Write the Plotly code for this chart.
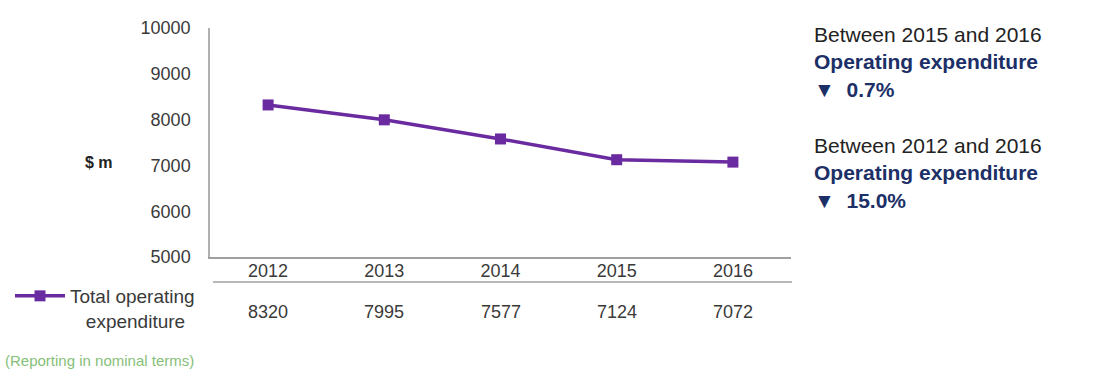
import plotly.graph_objects as go

years = ["2012", "2013", "2014", "2015", "2016"]
opex = [8320, 7995, 7577, 7124, 7072]
series_name = "Total operating<br>&nbsp;&nbsp;&nbsp;expenditure"
y_ticks = [5000, 6000, 7000, 8000, 9000, 10000]
y_tick_text = ["5000", "6000", "7000", "8000", "9000", "10000"]
note = "(Reporting in nominal terms)"
side_blocks = [
    ("Between 2015 and 2016", "Operating expenditure", "▼  0.7%"),
    ("Between 2012 and 2016", "Operating expenditure", "▼  15.0%"),
]

W, H = 1104, 371
L, R, T, B = 209, 791, 28, 257
FONT = "Liberation Sans, Arial, sans-serif"
GREY = "#3a3a3a"
PURPLE = "#6a2aa0"
NAVY = "#1c2f66"

def px_x(px):
    return (px - L) / (R - L)

def px_y(py):
    return (B - py) / (B - T)

fig = go.Figure()
fig.add_trace(go.Scatter(
    x=list(range(len(years))), y=opex, mode="lines+markers", name=series_name,
    line=dict(color=PURPLE, width=3.5),
    marker=dict(symbol="square", size=11, color=PURPLE),
    showlegend=True,
))

annotations = []
for i, v in enumerate(opex):
    annotations.append(dict(x=i, xref="x", y=px_y(312), yref="paper",
                            xanchor="center", yanchor="middle",
                            text=str(v), showarrow=False,
                            font=dict(family=FONT, size=18, color=GREY)))
annotations.append(dict(x=px_x(98), xref="paper", y=px_y(163), yref="paper",
                        xanchor="center", yanchor="middle",
                        text="<b>$ m</b>", showarrow=False,
                        font=dict(family=FONT, size=16, color="#222222")))
annotations.append(dict(x=px_x(2), xref="paper", xanchor="left", y=px_y(360), yref="paper",
                        yanchor="middle", text=note, showarrow=False,
                        font=dict(family=FONT, size=15, color="#86c078")))
block_centres = [62, 173]
for (a, b, c), yc in zip(side_blocks, block_centres):
    txt = (a + "<br><span style='color:%s'><b>%s</b></span>"
           "<br><span style='color:%s'><b>%s</b></span>") % (NAVY, b, NAVY, c)
    annotations.append(dict(x=px_x(812), xref="paper", xanchor="left", y=px_y(yc), yref="paper",
                            yanchor="middle", align="left", text=txt, showarrow=False,
                            font=dict(family=FONT, size=21, color="#222222")))

shapes = [dict(type="line", xref="paper", yref="paper",
               x0=px_x(212), x1=px_x(792), y0=px_y(282), y1=px_y(282),
               line=dict(color="#a0a0a0", width=1.5))]

fig.update_layout(
    width=W, height=H,
    margin=dict(l=L, r=W - R, t=T, b=H - B),
    paper_bgcolor="white", plot_bgcolor="white",
    font=dict(family=FONT, size=18, color=GREY),
    xaxis=dict(range=[-0.5, len(years) - 0.5], tickvals=list(range(len(years))),
               ticktext=years, showgrid=False,
               showline=True, linecolor="#a0a0a0", linewidth=1.5,
               ticks="", ticklabelstandoff=-3, tickfont=dict(size=18, color=GREY), zeroline=False),
    yaxis=dict(range=[5000, 10000], tickvals=y_ticks, ticktext=y_tick_text, showgrid=False,
               showline=True, linecolor="#b0b0b0", linewidth=1.5,
               ticks="", ticklabelstandoff=14, tickfont=dict(size=18, color=GREY),
               zeroline=False),
    legend=dict(x=px_x(10), xanchor="left", y=px_y(277), yanchor="top",
                xref="paper", yref="paper", itemwidth=50, valign="top",
                bgcolor="rgba(0,0,0,0)", tracegroupgap=0,
                font=dict(family=FONT, size=19, color=GREY)),
    annotations=annotations, shapes=shapes,
)

fig.write_html("out.html")
